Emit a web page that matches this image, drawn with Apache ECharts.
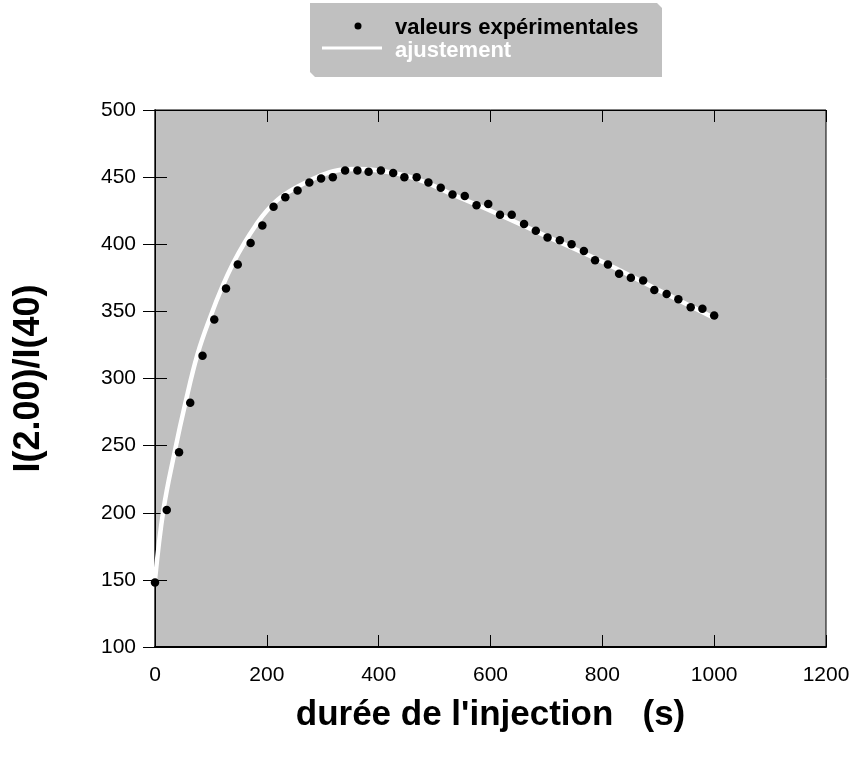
<!DOCTYPE html>
<html>
<head>
<meta charset="utf-8">
<script src="https://cdn.jsdelivr.net/npm/echarts@6/dist/echarts.min.js"></script>
<style>
  html, body { margin: 0; padding: 0; background: #ffffff; }
  #chart { width: 852px; height: 758px; }
</style>
</head>
<body>
<div id="chart"></div>
<script>
// Measured ratio vs injection time (s)
var expTime = [0, 21, 43, 63, 85, 106, 127, 148, 171, 192, 212, 233, 255, 276, 297, 318, 340, 362, 382, 404,
               426, 446, 468, 489, 511, 532, 554, 575, 596, 617, 638, 660, 681, 702, 724, 745, 767, 787, 810, 830,
               851, 873, 893, 915, 936, 958, 979, 1000];
var expRatio = [148, 202, 245, 282, 317, 344, 367, 385, 401, 414, 428, 435, 440, 446, 449, 450, 455, 455, 454, 455,
                453, 450, 450, 446, 442, 437, 436, 429, 430, 422, 422, 415, 410, 405, 403, 400, 395, 388, 385, 378,
                375, 373, 366, 363, 359, 353, 352, 347];

// Fitted curve
var fitTime = [0, 15, 35, 55, 76, 100, 120, 140, 160, 180, 200, 225, 260, 295, 325, 360, 400, 445, 485, 527,
               600, 700, 800, 900, 1000];
var fitRatio = [150, 202, 245, 283, 318, 347, 368, 386, 401, 414, 425, 435, 444, 451, 455, 456, 455, 451.5, 446, 438,
                425, 406, 387, 366, 345];

var xTicks = { min: 0, max: 1200, interval: 200 };
var yTicks = { min: 100, max: 500, interval: 50 };

var seriesNames = ['valeurs expérimentales', 'ajustement'];
var xTitle = "durée de l'injection   (s)";
var yTitle = 'I(2.00)/I(40)';

function pairs(xs, ys) {
  return xs.map(function (x, i) { return [x, ys[i]]; });
}
function plain(v) { return String(v); }

var FONT = '"Liberation Sans", Arial, sans-serif';
var tickStyle = { show: true, inside: true, length: 12, lineStyle: { color: '#000', width: 1 } };

var chart = echarts.init(document.getElementById('chart'), null, { renderer: 'canvas' });

chart.setOption({
  backgroundColor: '#ffffff',
  animation: false,
  grid: {
    left: 155, top: 110, width: 671, height: 537,
    containLabel: false, outerBoundsMode: 'none',
    show: true, backgroundColor: '#c0c0c0', borderColor: '#000', borderWidth: 1
  },
  xAxis: [{
    type: 'value', position: 'bottom',
    min: xTicks.min, max: xTicks.max, interval: xTicks.interval,
    axisLine: { show: true, lineStyle: { color: '#000', width: 2 } },
    axisTick: tickStyle,
    splitLine: { show: false },
    axisLabel: { color: '#000', fontFamily: FONT, fontSize: 21, margin: 18, formatter: plain },
    name: xTitle, nameLocation: 'middle', nameGap: 51,
    nameTextStyle: { color: '#000', fontFamily: FONT, fontSize: 35, fontWeight: 'bold' }
  }, {
    type: 'value', position: 'top',
    min: xTicks.min, max: xTicks.max, interval: xTicks.interval,
    axisLine: { show: true, lineStyle: { color: '#000', width: 1 } },
    axisTick: tickStyle, axisLabel: { show: false }, splitLine: { show: false }
  }],
  yAxis: [{
    type: 'value', position: 'left',
    min: yTicks.min, max: yTicks.max, interval: yTicks.interval,
    axisLine: { show: true, lineStyle: { color: '#555', width: 2 } },
    axisTick: tickStyle,
    splitLine: { show: false },
    axisLabel: { color: '#000', fontFamily: FONT, fontSize: 21, margin: 19, formatter: plain },
    name: yTitle, nameLocation: 'middle', nameGap: 108, nameRotate: 90,
    nameTextStyle: { color: '#000', fontFamily: FONT, fontSize: 36, fontWeight: 'bold' }
  }, {
    type: 'value', position: 'right',
    min: yTicks.min, max: yTicks.max, interval: yTicks.interval,
    axisLine: { show: true, lineStyle: { color: '#000', width: 1 } },
    axisTick: tickStyle, axisLabel: { show: false }, splitLine: { show: false }
  }],
  series: [{
    name: seriesNames[1],
    type: 'line',
    xAxisIndex: 0, yAxisIndex: 0,
    data: pairs(fitTime, fitRatio),
    smooth: 0.4,
    showSymbol: false,
    symbol: 'none',
    lineStyle: { color: '#ffffff', width: 4.5 },
    z: 2
  }, {
    name: seriesNames[0],
    type: 'scatter',
    xAxisIndex: 0, yAxisIndex: 0,
    data: pairs(expTime, expRatio),
    symbol: 'circle',
    symbolSize: 8.5,
    itemStyle: { color: '#000000', opacity: 1 },
    z: 3
  }],
  graphic: [{
    type: 'polygon',
    shape: { points: [[310, 3], [657, 3], [662, 8], [662, 77], [315, 77], [310, 72]] },
    style: { fill: '#c0c0c0' }
  }, {
    type: 'circle',
    shape: { cx: 358, cy: 26, r: 3.5 },
    style: { fill: '#000' }
  }, {
    type: 'text',
    left: 395, top: 17,
    style: { text: seriesNames[0], fill: '#000', font: 'bold 22px ' + FONT }
  }, {
    type: 'line',
    shape: { x1: 322, y1: 48, x2: 382, y2: 48 },
    style: { stroke: '#fff', lineWidth: 3 }
  }, {
    type: 'text',
    left: 395, top: 40,
    style: { text: seriesNames[1], fill: '#fff', font: 'bold 22px ' + FONT }
  }]
});
</script>
</body>
</html>
